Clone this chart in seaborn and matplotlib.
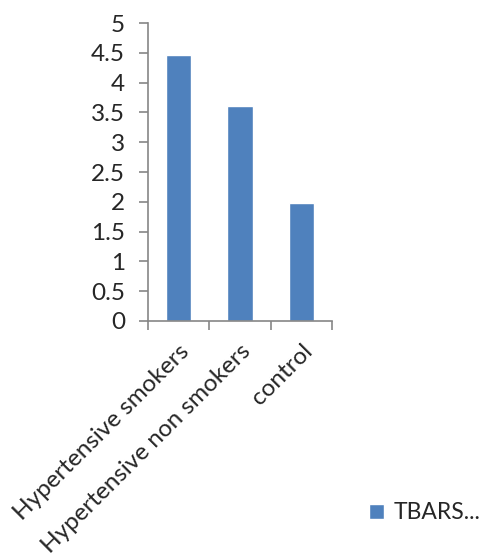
import pandas as pd
import matplotlib.pyplot as plt
import seaborn as sns

groups = ['Hypertensive smokers', 'Hypertensive non smokers', 'control']
tbars = [4.46, 3.61, 1.98]
series_name = 'TBARS...'
y_ticks = [0, 0.5, 1, 1.5, 2, 2.5, 3, 3.5, 4, 4.5, 5]
y_tick_labels = ['0', '0.5', '1', '1.5', '2', '2.5', '3', '3.5', '4', '4.5', '5']


def main():
    df = pd.DataFrame({'group': groups, 'value': tbars, 'series': series_name})

    sns.set_style('white')
    plt.rcParams['font.family'] = ['Lato', 'DejaVu Sans']

    fig = plt.figure(figsize=(4.82, 5.6), dpi=100)
    ax = fig.add_axes([0.307, 0.4268, 0.382, 0.532])

    sns.barplot(data=df, x='group', y='value', hue='series',
                palette=['#4F81BD'], width=0.41, ax=ax, legend=True,
                saturation=1)

    ax.set_ylim(0, 5)
    ax.set_xlim(-0.5, 2.5)
    ax.set_yticks(y_ticks)
    ax.set_yticklabels(y_tick_labels)
    ax.set_xlabel('')
    ax.set_ylabel('')

    for side in ['top', 'right']:
        ax.spines[side].set_visible(False)
    for side in ['left', 'bottom']:
        ax.spines[side].set_color('#868686')
        ax.spines[side].set_linewidth(1.2)

    ax.tick_params(axis='y', which='major', direction='out', length=6.5,
                   color='#868686', width=1.2, labelsize=17.5, pad=10, left=True)
    ax.set_xticks([-0.5, 0.5, 1.5, 2.5], minor=True)
    ax.tick_params(axis='x', which='minor', direction='out', length=6.5,
                   color='#868686', width=1.2, bottom=True)
    ax.tick_params(axis='x', which='major', length=0, labelsize=17.5, pad=14)
    plt.setp(ax.get_xticklabels(), rotation=45, ha='right',
             rotation_mode='anchor')

    handles, labels = ax.get_legend_handles_labels()
    ax.get_legend().remove()
    fig.legend(handles, labels, loc='center left',
               bbox_to_anchor=(0.766, 0.084), frameon=False, fontsize=16.5,
               borderpad=0, borderaxespad=0,
               handlelength=0.65, handleheight=0.65, handletextpad=0.4)

    fig.savefig('out.png', dpi=100)


if __name__ == '__main__':
    main()
